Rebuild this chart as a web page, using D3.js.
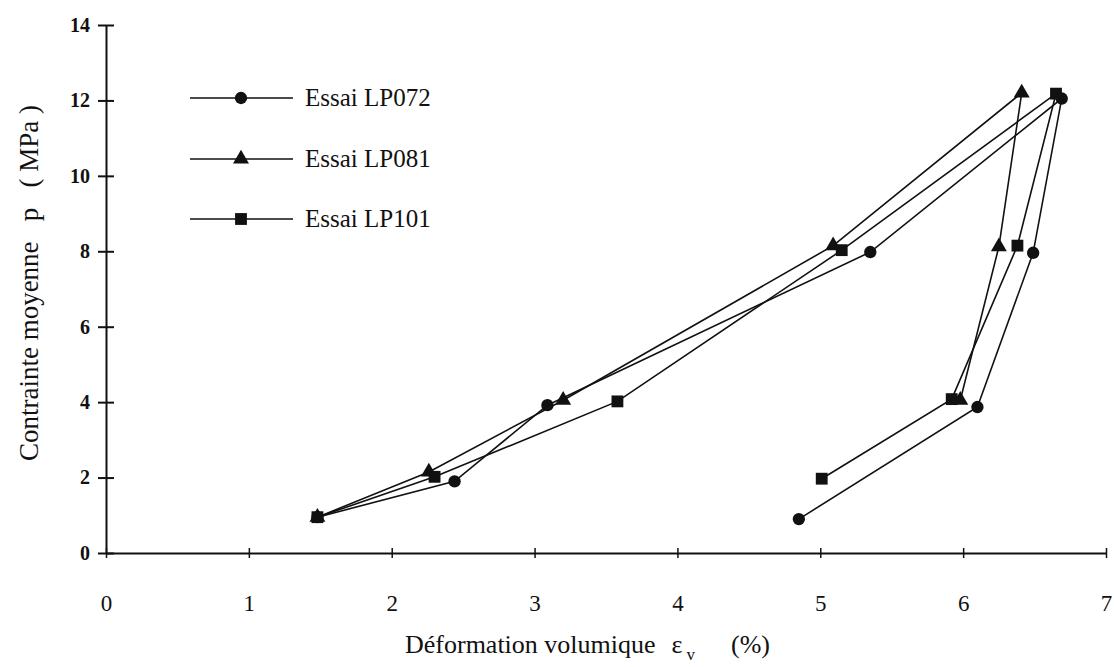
<!DOCTYPE html>
<html><head><meta charset="utf-8">
<script src="https://cdn.jsdelivr.net/npm/d3@7"></script>
<style>body{margin:0;background:#fff}svg{display:block}</style>
</head><body><svg id="c" width="1114" height="667" font-family="'Liberation Serif', 'Times New Roman', 'DejaVu Serif', serif"></svg>
<script>
const seriesNames = ["Essai LP072", "Essai LP081", "Essai LP101"];
const seriesSymbols = ["circle", "triangle", "square"];
const lp072X = [1.48, 2.44, 3.09, 5.35, 6.69, 6.49, 6.10, 4.85];
const lp072Y = [0.95, 1.90, 3.92, 7.98, 12.05, 7.96, 3.87, 0.90];
const lp081X = [1.48, 2.26, 3.20, 5.09, 6.41, 6.25, 5.98];
const lp081Y = [0.95, 2.15, 4.05, 8.15, 12.20, 8.12, 4.05];
const lp101X = [1.48, 2.30, 3.58, 5.15, 6.65, 6.38, 5.92, 5.01];
const lp101Y = [0.95, 2.02, 4.02, 8.03, 12.18, 8.15, 4.08, 1.97];
const xTicks = [0, 1, 2, 3, 4, 5, 6, 7];
const yTicks = [0, 2, 4, 6, 8, 10, 12, 14];

const FONT = "'Liberation Serif', 'Times New Roman', 'DejaVu Serif', serif";
const svg = d3.select("#c");
const x = d3.scaleLinear().domain([0, 7]).range([106, 1106]);
const y = d3.scaleLinear().domain([0, 14]).range([553, 25]);

// axes
const xAxis = d3.axisBottom(x).tickValues(xTicks).tickSize(0).tickFormat(d3.format("d"));
const gx = svg.append("g").attr("transform", `translate(0,${y(0)})`).call(xAxis).attr("font-family", FONT);
gx.select(".domain").attr("stroke", "#111").attr("stroke-width", 2);
gx.selectAll(".tick text").attr("dy", null).attr("y", 58).attr("font-size", 23)
  .attr("font-family", FONT).attr("fill", "#111");
gx.selectAll(".tick").append("line").attr("y1", -5).attr("y2", 5).attr("stroke", "#111").attr("stroke-width", 1.5);

const yAxis = d3.axisLeft(y).tickValues(yTicks).tickSize(0).tickFormat(d3.format("d"));
const gy = svg.append("g").attr("transform", `translate(${x(0)},0)`).call(yAxis).attr("font-family", FONT);
gy.select(".domain").attr("stroke", "#111").attr("stroke-width", 2);
gy.selectAll(".tick text").attr("x", -16).attr("font-size", 20).attr("font-weight", "bold")
  .attr("font-family", FONT).attr("fill", "#111");
gy.selectAll(".tick").append("line").attr("x1", -8).attr("x2", 8).attr("stroke", "#111").attr("stroke-width", 2);

// axis titles
const xt = svg.append("text").attr("x", 405).attr("y", 653).attr("text-anchor", "start")
  .attr("font-size", 26).attr("font-family", FONT).attr("fill", "#111");
xt.append("tspan").text("Déformation volumique");
xt.append("tspan").attr("dx", 16).text("ε");
xt.append("tspan").attr("font-size", 17).attr("dy", 7).attr("dx", 4).text("v");
xt.append("tspan").attr("dy", -7).attr("dx", 36).text("(%)");
svg.append("text").attr("transform", `translate(38,283) rotate(-90)`).attr("text-anchor", "middle")
  .attr("font-size", 27).attr("font-family", FONT).attr("fill", "#111")
  .attr("xml:space", "preserve").text("Contrainte moyenne   p   ( MPa )");

// series
const data = [
  lp072X.map((v, i) => [v, lp072Y[i]]),
  lp081X.map((v, i) => [v, lp081Y[i]]),
  lp101X.map((v, i) => [v, lp101Y[i]])
];
const symMap = {circle: d3.symbolCircle, triangle: d3.symbolTriangle, square: d3.symbolSquare};
const symSize = {circle: 120, triangle: 110, square: 140};
const line = d3.line().x(d => x(d[0])).y(d => y(d[1]));

data.forEach((pts, i) => {
  svg.append("path").attr("d", line(pts)).attr("fill", "none").attr("stroke", "#111").attr("stroke-width", 1.6);
});
data.forEach((pts, i) => {
  const s = seriesSymbols[i];
  svg.append("g").selectAll("path").data(pts).join("path")
    .attr("d", d3.symbol().type(symMap[s]).size(symSize[s]))
    .attr("transform", d => `translate(${x(d[0])},${y(d[1])})`)
    .attr("fill", "#111");
});

// legend
const legY = [98, 159, 219];
seriesNames.forEach((n, i) => {
  const g = svg.append("g").attr("transform", `translate(0,${legY[i]})`);
  g.append("line").attr("x1", 190).attr("x2", 293).attr("stroke", "#111").attr("stroke-width", 1.6);
  const s = seriesSymbols[i];
  g.append("path").attr("d", d3.symbol().type(symMap[s]).size(symSize[s])).attr("transform", "translate(241,0)").attr("fill", "#111");
  g.append("text").attr("x", 305).attr("y", 8).attr("font-size", 25).attr("font-family", FONT).attr("fill", "#111").text(n);
});
</script></body></html>
